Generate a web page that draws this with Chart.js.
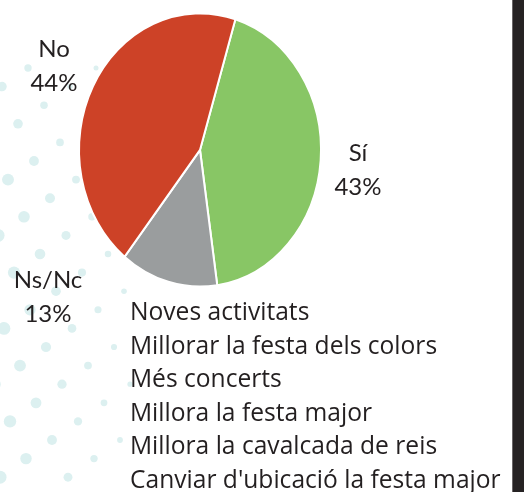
<!DOCTYPE html>
<html>
<head>
<meta charset="utf-8">
<script src="https://cdn.jsdelivr.net/npm/chart.js@4"></script>
<style>
  body { margin: 0; background: #fff; }
  #wrap { position: relative; width: 524px; height: 492px; overflow: hidden; }
  #pie { position: absolute; left: 0; top: 0; }
  .lbl { position: absolute; font-family: Lato, "Noto Sans", sans-serif; font-size: 24px; color: #231f20; text-align: center; line-height: 34px; width: 100px; }
  #list { position: absolute; left: 130px; top: 294px; font-family: "Open Sans", sans-serif; font-size: 24.6px; color: #231f20; line-height: 33.6px; white-space: nowrap; }
  #bar { position: absolute; left: 512px; top: 0; width: 12px; height: 492px; background: #262223; border-left: 1px solid #6a6668; }
</style>
</head>
<body>
<div id="wrap">
  <canvas id="pie" width="524" height="492"></canvas>
  <div class="lbl" style="left:4px; top:31px;">No<br>44%</div>
  <div class="lbl" style="left:308px; top:135px;">Sí<br>43%</div>
  <div class="lbl" style="left:-2px; top:262px;">Ns/Nc<br>13%</div>
  <div id="list"></div>
  <div id="bar"></div>
</div>
<script>
// answer categories and shares (%)
const categories = ["Sí", "Ns/Nc", "No"];
const shares = [43, 13, 44];
const sliceColors = ["#88c665", "#9a9d9e", "#cd4227"];

// proposals listed under the chart
const proposals = [
    "Noves activitats",
    "Millorar la festa dels colors",
    "Més concerts",
    "Millora la festa major",
    "Millora la cavalcada de reis",
    "Canviar d'ubicació la festa major"
];

document.getElementById("list").innerHTML = proposals.join("<br>");

// light dotted pattern on the left side
const dotsPlugin = {
    id: "dots",
    beforeDraw(chart) {
        const ctx = chart.ctx;
        ctx.save();
        ctx.fillStyle = "#dcf0f0";
        for (let r = 0; r < 23; r++) {
            let y = 68 + r * 18.6;
            let start = ((28 - r * 26) % 68 + 68) % 68;
            for (let x = start - 68; x < 135; x += 68) {
                if (x < -6) continue;
                let rad = Math.max(2.5, 6.5 - x * 0.03 - (y < 200 ? (200 - y) * 0.015 : 0));
                ctx.beginPath();
                ctx.arc(x, y, rad, 0, Math.PI * 2);
                ctx.fill();
            }
        }
        ctx.restore();
    }
};

// the original pie is a bit taller than wide
const stretchPlugin = {
    id: "stretch",
    beforeDatasetsDraw(chart) {
        const a = chart.chartArea;
        const cx = (a.left + a.right) / 2, cy = (a.top + a.bottom) / 2;
        const ctx = chart.ctx;
        ctx.save();
        ctx.translate(cx, cy);
        ctx.scale(1, 1.13);
        ctx.translate(-cx, -cy);
    },
    afterDatasetsDraw(chart) {
        chart.ctx.restore();
    }
};

let ctx = document.getElementById("pie").getContext("2d");
let myChart = new Chart(ctx, {
    type: "pie",
    data: {
        labels: categories,
        datasets: [{
            data: shares,
            backgroundColor: sliceColors,
            borderColor: "#ffffff",
            borderWidth: 2
        }]
    },
    options: {
        responsive: false,
        animation: false,
        rotation: 17,
        layout: { padding: { left: 78, right: 202, top: 28, bottom: 220 } },
        plugins: {
            legend: { display: false },
            tooltip: { enabled: false }
        }
    },
    plugins: [dotsPlugin, stretchPlugin]
});
</script>
</body>
</html>
